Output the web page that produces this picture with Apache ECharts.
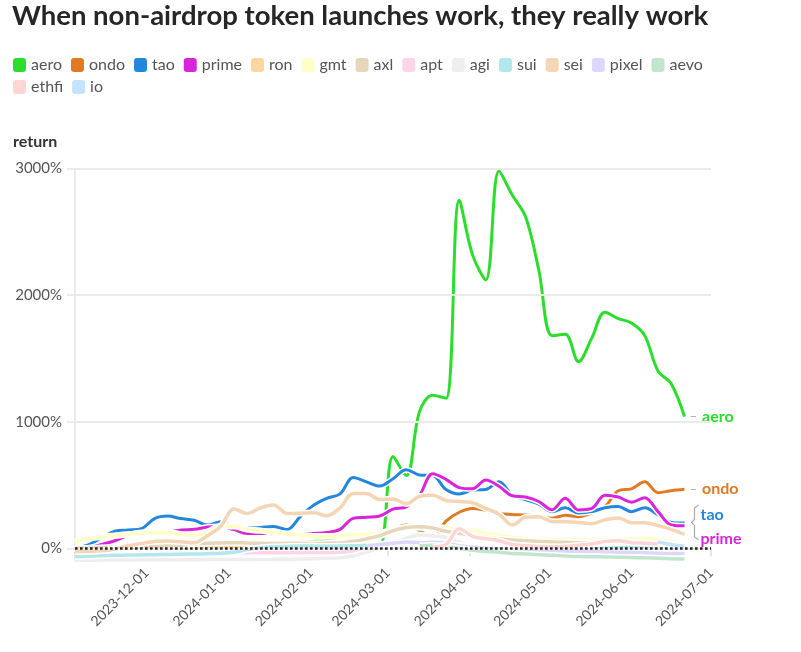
<!DOCTYPE html>
<html><head><meta charset="utf-8">
<script src="https://cdn.jsdelivr.net/npm/echarts@6/dist/echarts.min.js"></script>
<style>html,body{margin:0;padding:0;background:#fff}#c{width:801px;height:652px}</style>
</head><body><div id="c"></div>
<script>
// ---- data ----
const firstDate = '2023-11-04';
const stepDays = 5;
const tokens = ['aero','ondo','tao','prime','ron','gmt','axl','apt','agi','sui','sei','pixel','aevo','ethfi','io'];
// first data point (days after firstDate) for tokens launched later
const seriesStart = {ondo: 75, pixel: 110, aevo: 130, ethfi: 135, io: 220};
const aero  = [0,5,8,10,8,6,8,10,12,10,12,15,20,25,22,28,35,45,55,60,50,40,28,20,725,575,1080,1210,1185,2750,2320,2120,2980,2790,2620,2200,1680,1690,1475,1660,1865,1815,1780,1680,1400,1300,1040];
const ondo  = [0,5,20,30,25,40,60,75,95,150,185,140,85,215,285,315,300,276,268,263,255,237,262,250,280,330,455,470,525,440,455,466];
const tao   = [0,28,80,135,145,155,235,255,235,222,184,210,165,160,165,172,148,250,340,395,430,560,525,492,550,620,580,575,465,430,460,465,525,420,385,350,290,320,280,290,320,330,290,320,265,205,200];
const prime = [-40,0,30,60,100,125,125,128,145,150,168,172,148,118,118,115,113,113,118,125,150,237,245,255,310,328,420,590,545,480,470,540,490,415,405,370,305,395,303,315,420,405,365,400,290,185,178];
const ron   = [-20,-15,-10,-5,0,5,10,12,15,10,5,8,10,5,0,-5,-5,0,5,10,15,20,30,35,40,35,30,25,20,15,10,5,0,-5,-8,-10,-12,-12,-15,-15,-12,-10,-12,-15,-18,-20,-22];
const gmt   = [50,80,90,100,110,118,125,125,110,100,130,175,175,150,140,125,115,105,95,95,100,105,110,118,150,165,165,165,160,150,140,120,105,85,78,72,70,68,65,65,70,72,75,78,70,55,40];
const axl   = [0,2,5,8,10,12,15,20,25,35,40,42,45,42,40,38,40,40,38,40,42,55,75,100,140,165,170,160,135,120,100,85,75,65,60,55,50,48,45,45,48,50,45,42,38,35,30];
const apt   = [-45,-45,-44,-43,-42,-42,-40,-39,-38,-37,-36,-35,-35,-34,-34,-35,-34,-33,-32,-32,-30,-25,-15,0,10,20,25,20,15,10,0,-5,-8,-10,-12,-15,-15,-12,-10,-12,-10,-8,-10,-12,-15,-18,-20];
const agi   = [-96,-94,-93,-92,-92,-91,-90,-90,-91,-90,-89,-88,-88,-87,-88,-87,-86,-85,-82,-78,-75,-60,-30,5,40,80,105,100,85,50,20,5,0,-10,-15,-20,-22,-25,-25,-28,-25,-22,-25,-28,-30,-32,-35];
const sui   = [-66,-62,-58,-55,-53,-52,-50,-48,-46,-45,-42,-38,-30,-10,5,12,15,18,18,16,18,20,25,30,35,40,38,35,30,25,18,10,5,0,-2,-5,-5,-3,-5,-5,0,5,8,10,15,20,5];
const sei   = [-27,-24,-20,-5,20,38,55,58,52,45,100,175,310,276,320,342,276,278,281,258,320,434,434,385,390,352,410,420,378,370,360,315,270,184,245,250,212,210,205,195,225,240,203,202,180,150,110];
const pixel = [20,30,40,50,45,48,40,20,10,0,-5,-10,-15,-18,-20,-22,-25,-25,-28,-30,-32,-35,-38,-40,-40];
const aevo  = [20,25,15,0,-15,-25,-30,-40,-45,-50,-55,-60,-65,-66,-68,-70,-72,-75,-78,-82,-85];
const ethfi = [10,30,155,95,75,60,30,20,15,12,15,25,35,55,60,45,40,35,30,25];
const io    = [50,30,15];
const xTickLabels = ['2023-12-01','2024-01-01','2024-02-01','2024-03-01','2024-04-01','2024-05-01','2024-06-01','2024-07-01'];
const yTickValues = [0,1000,2000,3000];
const labelled = ['aero','ondo','tao','prime'];

(function () {
const F = 'Lato, "Noto Sans", sans-serif';
const colors = {aero:'#2bde2b', ondo:'#e07b24', tao:'#2387de', prime:'#d925d9', ron:'#fed69f', gmt:'#ffffc8',
  axl:'#e6d7bb', apt:'#fdd5ea', agi:'#eeeeee', sui:'#b3e7ec', sei:'#f4d5b5', pixel:'#dcd8fb', aevo:'#c2e6cd',
  ethfi:'#ffd5d5', io:'#c5e3fa'};
const labelOffsetY = {aero:0, ondo:0, tao:-8, prime:13};
const values = {aero, ondo, tao, prime, ron, gmt, axl, apt, agi, sui, sei, pixel, aevo, ethfi, io};

const DAY = 86400000;
const t0 = Date.parse(firstDate);
const xMin = t0, xMax = Date.parse('2024-07-01');
const xTicks = xTickLabels.map(s => Date.parse(s));
const fmtDate = v => { const d = new Date(v); const p = n => String(n).padStart(2,'0');
  return d.getUTCFullYear() + '-' + p(d.getUTCMonth()+1) + '-' + p(d.getUTCDate()); };

const series = [];
series.push({type:'line', name:'_grid', data:[], silent:true, z:1,
  markLine:{silent:true, symbol:'none', animation:false, label:{show:false},
    lineStyle:{color:'#ebebeb', width:2, type:'solid'}, emphasis:{disabled:true},
    data: yTickValues.map(v => ({yAxis:v}))}});
tokens.forEach(t => {
  const start = seriesStart[t] || 0;
  const data = values[t].map((v, i) => [t0 + (start + i*stepDays)*DAY, v]);
  const main = labelled.includes(t);
  const w = main ? 3 : 3.5;
  series.push({type:'line', name:'_halo_'+t, data, smooth:0.35, symbol:'none', silent:true, z:2,
    lineStyle:{color:'#ffffff', width:w+3}, itemStyle:{color:'#ffffff'}, emphasis:{disabled:true}});
  const s = {type:'line', name:t, data, smooth:0.35, symbol:'none', z:2,
    lineStyle:{color:colors[t], width:w}, itemStyle:{color:colors[t]}, emphasis:{disabled:true}};
  if (main) {
    const dash = (t === 'aero' || t === 'ondo');
    s.endLabel = {show:true, distance: dash ? 5 : 16, offset:[0, labelOffsetY[t]],
      formatter: dash ? '{d|–}{n|' + t + '}' : '{n|' + t + '}',
      rich:{d:{color:'#aaaaaa', fontSize:13, fontFamily:F, padding:[0,5,0,0]},
            n:{color:colors[t], fontSize:16, fontWeight:'bold', fontFamily:F}}};
  }
  series.push(s);
});
series.push({type:'line', name:'_zero', data:[], silent:true, z:10,
  markLine:{silent:true, symbol:'none', animation:false, label:{show:false}, emphasis:{disabled:true},
    lineStyle:{color:'#222222', width:2.6, type:[2.6,2.4]}, data:[{yAxis:0}]}});

const legendBase = {left:13, width:705, padding:0, itemGap:9, itemWidth:13, itemHeight:14,
  icon:'roundRect', selectedMode:false, textStyle:{fontFamily:F, fontSize:16, color:'#555555'}};

const chart = echarts.init(document.getElementById('c'), null, {renderer:'canvas'});
chart.setOption({
  animation:false,
  backgroundColor:'#ffffff',
  title:[
    {text:'When non-airdrop token launches work, they really work', left:12, top:2, padding:0,
     textStyle:{fontFamily:F, fontSize:27.5, fontWeight:'bold', color:'#262626'}},
    {text:'return', left:13, top:134, padding:0,
     textStyle:{fontFamily:F, fontSize:16, fontWeight:'bold', color:'#333333'}}
  ],
  legend:[
    Object.assign({}, legendBase, {data:tokens.slice(0, 13), top:57}),
    Object.assign({}, legendBase, {data:tokens.slice(13), top:79})
  ],
  grid:{left:75, right:90, top:168.5, bottom:91.5, containLabel:false},
  xAxis:{type:'value', min:xMin, max:xMax,
    axisLine:{show:true, lineStyle:{color:'#e6e6e6', width:2}},
    axisTick:{show:true, customValues:xTicks, length:8, lineStyle:{color:'#e0e0e0', width:1.5}},
    axisLabel:{customValues:xTicks, rotate:45, margin:10, formatter:v => fmtDate(v),
      fontFamily:F, fontSize:14, color:'#555555'},
    splitLine:{show:false}},
  yAxis:{type:'value', min:-96, max:3000,
    axisLine:{show:true, lineStyle:{color:'#ebebeb', width:2}},
    axisTick:{show:true, customValues:yTickValues, length:8, lineStyle:{color:'#ebebeb', width:2}},
    axisLabel:{customValues:yTickValues, formatter:v => v + '%', margin:13,
      fontFamily:F, fontSize:15, color:'#555555'},
    splitLine:{show:false}},
  series
});

// bracket grouping the tao / prime labels
const endT = t0 + (tao.length - 1) * stepDays * DAY;
const pT = chart.convertToPixel({xAxisIndex:0, yAxisIndex:0}, [endT, tao[tao.length-1]]);
const pP = chart.convertToPixel({xAxisIndex:0, yAxisIndex:0}, [endT, prime[prime.length-1]]);
const bx = pT[0] + 10, bTop = pT[1] + labelOffsetY.tao - 10, bBot = pP[1] + labelOffsetY.prime + 1;
const mid = (bTop + bBot) / 2;
chart.setOption({graphic:[{type:'polyline', silent:true, z:20,
  shape:{points:[[bx+4,bTop],[bx,bTop+3],[bx,mid-3],[bx-3,mid],[bx,mid+3],[bx,bBot-3],[bx+4,bBot]]},
  style:{fill:'none', stroke:'#aaaaaa', lineWidth:1.2}}]});
})();
</script></body></html>
